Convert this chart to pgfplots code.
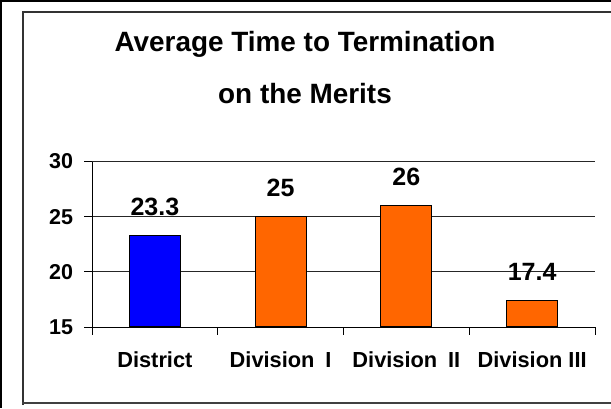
\documentclass[border=0pt]{standalone}
\usepackage{pgfplots}
\pgfplotsset{compat=1.18}
\usepackage{fontspec}
\setmainfont{Liberation Sans}
\definecolor{barblue}{HTML}{0000FF}
\definecolor{barorange}{HTML}{FF6600}
\begin{document}
\begin{tikzpicture}[x=1pt,y=1pt]
\useasboundingbox (0,0) rectangle (611,408);
\fill[black] (0,405.5) rectangle (611,408);
\fill[black] (0,0) rectangle (2,408);
\draw[line width=1.2pt, black!80] (23,3) -- (23,396) -- (615,396);
\draw[line width=2pt, black!75] (22.4,5) -- (615,5);
\node[anchor=base, font=\bfseries\fontsize{27.9}{30}\selectfont] at (305,356) {Average Time to Termination};
\node[anchor=base, font=\bfseries\fontsize{27.9}{30}\selectfont] at (305,305) {on the Merits};
\begin{axis}[
  at={(92pt,81pt)}, anchor=south west,
  scale only axis, width=503pt, height=165.5pt,
  xmin=0, xmax=4, ymin=15, ymax=30,
  ytick={15,20,25,30},
  xtick={0,1,2,3,4}, xticklabels={},
  extra x ticks={0.5,1.5,2.5,3.5},
  extra x tick labels={District,Division\enspace I,Division\enspace II,Division III},
  extra x tick style={major tick length=0pt, xticklabel style={anchor=base, yshift=-40pt}},
  axis x line*=bottom, axis y line*=left,
  axis line style={-, line width=0.9pt, black},
  tick align=outside, major tick length=7.5pt,
  tick style={line width=0.9pt, black},
  ymajorgrids, grid style={black!85, line width=0.8pt},
  xticklabel style={font=\bfseries\fontsize{21.8}{24}\selectfont},
  yticklabel style={font=\bfseries\fontsize{21.5}{24}\selectfont, xshift=-8pt},
  /pgf/number format/assume math mode=true,
  ybar, bar width=51pt, bar shift=0pt,
  nodes near coords,
  every node near coord/.append style={font=\bfseries\fontsize{25}{28}\selectfont, anchor=base, yshift=20pt},
  clip=false,
]
\addplot[fill=barblue, draw=black, line width=1.2pt] coordinates {(0.5,23.3)};
\addplot[fill=barorange, draw=black, line width=1.2pt] coordinates {(1.5,25) (2.5,26) (3.5,17.4)};
\end{axis}
\end{tikzpicture}
\end{document}
